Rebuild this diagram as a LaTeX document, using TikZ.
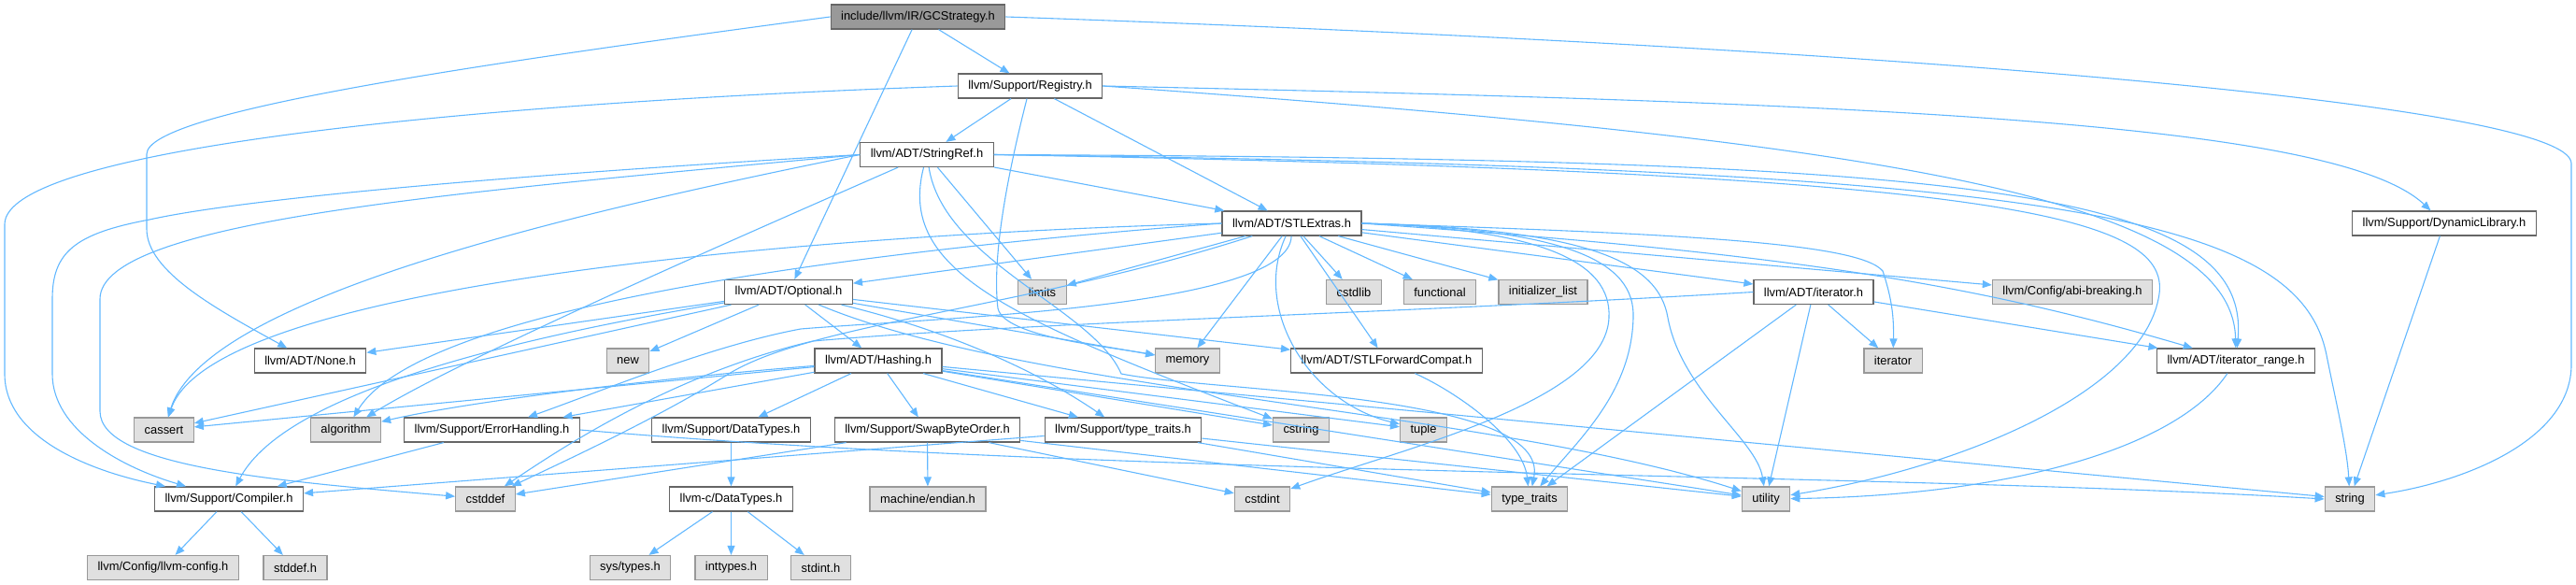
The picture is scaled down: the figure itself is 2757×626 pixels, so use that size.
\documentclass[tikz,border=0pt]{standalone}
\usepackage{fontspec}
\setmainfont{Liberation Sans}
\usetikzlibrary{arrows.meta}
\definecolor{ec}{HTML}{63B8FF}
\definecolor{bw}{HTML}{666666}
\definecolor{bg}{HTML}{999999}
\definecolor{fg}{HTML}{E0E0E0}
\newcommand{\nodefont}{\fontsize{12.9}{15}\selectfont}
\tikzset{
  box/.style={draw=bw, fill=white, line width=1.2pt, minimum height=26pt, inner xsep=11pt, inner ysep=0pt, font=\nodefont, anchor=center},
  gbox/.style={box, draw=bg, fill=fg},
  rootbox/.style={box, draw=bw, fill=bg},
  e/.style={draw=ec, line width=1.1pt, -{Triangle[length=10pt,width=8pt]}}
}
\begin{document}
\begin{tikzpicture}[x=1pt,y=-1pt]
\useasboundingbox (0,0) rectangle (2757,626);
% row 1-4
\node[rootbox] (gc) at (982.5,18) {include/llvm/IR/GCStrategy.h};
\node[box] (reg) at (1102.5,92) {llvm/Support/Registry.h};
\node[box] (sref) at (992,165.5) {llvm/ADT/StringRef.h};
\node[box] (stl) at (1382.5,239) {llvm/ADT/STLExtras.h};
\node[box] (dyn) at (2616,239) {llvm/Support/DynamicLibrary.h};
% row 5
\node[box] (opt) at (844,312.5) {llvm/ADT/Optional.h};
\node[gbox] (limits) at (1115.5,312.5) {limits};
\node[gbox] (cstdlib) at (1449,312.5) {cstdlib};
\node[gbox] (functional) at (1541,312.5) {functional};
\node[gbox] (initlist) at (1651.5,312.5) {initializer\_list};
\node[box] (iterh) at (1941,312.5) {llvm/ADT/iterator.h};
\node[gbox] (abi) at (2218,312.5) {llvm/Config/abi-breaking.h};
% row 6
\node[box] (none) at (332,386) {llvm/ADT/None.h};
\node[gbox] (new) at (672,386) {new};
\node[box] (hash) at (940,386) {llvm/ADT/Hashing.h};
\node[gbox] (memory) at (1271,386) {memory};
\node[box] (sfc) at (1484,386) {llvm/ADT/STLForwardCompat.h};
\node[gbox] (iterator) at (2026,386) {iterator};
\node[box] (irange) at (2393,386) {llvm/ADT/iterator\_range.h};
% row 7
\node[gbox] (cassert) at (175.5,460) {cassert};
\node[gbox] (algorithm) at (370,460) {algorithm};
\node[box] (errh) at (526.5,460) {llvm/Support/ErrorHandling.h};
\node[box] (sdt) at (782.5,460) {llvm/Support/DataTypes.h};
\node[box] (swap) at (992.5,460) {llvm/Support/SwapByteOrder.h};
\node[box] (stt) at (1202,460) {llvm/Support/type\_traits.h};
\node[gbox] (cstring) at (1392.5,460) {cstring};
\node[gbox] (tuple) at (1523.5,460) {tuple};
% row 8
\node[box] (comp) at (245,534) {llvm/Support/Compiler.h};
\node[gbox] (cstddef) at (519.5,534) {cstddef};
\node[box] (cdt) at (782.5,534) {llvm-c/DataTypes.h};
\node[gbox] (endian) at (993,534) {machine/endian.h};
\node[gbox] (cstdint) at (1351,534) {cstdint};
\node[gbox] (typetraits) at (1637,534) {type\_traits};
\node[gbox] (utility) at (1890,534) {utility};
\node[gbox] (string) at (2515,534) {string};
% row 9
\node[gbox] (llvmconfig) at (174.5,607.5) {llvm/Config/llvm-config.h};
\node[gbox] (stddef) at (316,607.5) {stddef.h};
\node[gbox] (systypes) at (674.5,607.5) {sys/types.h};
\node[gbox] (inttypes) at (782.5,607.5) {inttypes.h};
\node[gbox] (stdint) at (878.5,607.5) {stdint.h};

% GCStrategy.h
\draw[e] (gc) -- (reg);
\draw[e] (gc) -- (opt);
\draw[e] (gc.west) .. controls (500,70) and (157,120) .. (157,165) -- (157,245) .. controls (157,290) and (230,330) .. (none);
\draw[e] (gc.east) .. controls (2000,50) and (2752,110) .. (2752,175) -- (2752,390) .. controls (2752,470) and (2640,515) .. (string);
% Registry.h
\draw[e] (reg.west) .. controls (500,110) and (5,160) .. (5,240) -- (5,400) .. controls (5,470) and (100,505) .. (comp);
\draw[e] (reg) -- (sref);
\draw[e] (reg) .. controls (1075,200) and (1062,280) .. (1068,330) .. controls (1075,360) and (1180,370) .. (memory);
\draw[e] (reg) -- (stl);
\draw[e] (reg.east) .. controls (2000,150) and (2390,210) .. (irange);
\draw[e] (reg.east) .. controls (2000,110) and (2500,130) .. (dyn);
% StringRef.h
\draw[e] (sref) -- (stl);
\draw[e] (sref) -- (limits);
\draw[e] (sref.west) .. controls (500,190) and (250,215) .. (160,235) .. controls (80,250) and (56,270) .. (56,320) -- (56,400) .. controls (56,460) and (130,500) .. (comp);
\draw[e] (sref.west) .. controls (500,205) and (107,235) .. (107,320) -- (107,440) .. controls (107,500) and (300,515) .. (cstddef);
\draw[e] (sref.west) .. controls (600,230) and (220,320) .. (cassert);
\draw[e] (sref) .. controls (800,250) and (500,380) .. (algorithm);
\draw[e] (sref) .. controls (960,290) and (1080,340) .. (cstring);
\draw[e] (sref) .. controls (1010,280) and (1170,330) .. (1200,400) .. controls (1300,420) and (1660,420) .. (typetraits);
\draw[e] (sref.east) .. controls (2150,185) and (2330,230) .. (2310,320) .. controls (2290,420) and (2100,500) .. (utility);
\draw[e] (sref.east) .. controls (2100,170) and (2410,200) .. (irange);
\draw[e] (sref.east) .. controls (2200,180) and (2460,230) .. (2490,380) .. controls (2500,430) and (2512,480) .. (string);
% STLExtras.h
\draw[e] (stl) -- (opt);
\draw[e] (stl) -- (limits);
\draw[e] (stl) -- (cstdlib);
\draw[e] (stl) -- (functional);
\draw[e] (stl) -- (initlist);
\draw[e] (stl) -- (iterh);
\draw[e] (stl) -- (abi);
\draw[e] (stl) -- (memory);
\draw[e] (stl) -- (sfc);
\draw[e] (stl.east) .. controls (1900,270) and (2100,300) .. (irange);
\draw[e] (stl.east) .. controls (1800,250) and (1990,260) .. (2015,290) .. controls (2025,320) and (2027,340) .. (iterator);
\draw[e] (stl) .. controls (1340,330) and (1400,430) .. (tuple);
\draw[e] (stl.east) .. controls (1650,245) and (1725,280) .. (1722,340) .. controls (1718,430) and (1500,480) .. (cstdint);
\draw[e] (stl.east) .. controls (1680,245) and (1750,280) .. (1748,340) .. controls (1746,420) and (1690,470) .. (typetraits);
\draw[e] (stl.east) .. controls (1700,245) and (1775,280) .. (1785,340) .. controls (1800,420) and (1880,470) .. (utility);
\draw[e] (stl.west) .. controls (900,250) and (230,300) .. (cassert);
\draw[e] (stl.west) .. controls (900,270) and (450,330) .. (algorithm);
\draw[e] (stl) .. controls (1100,330) and (870,345) .. (780,400) .. controls (700,450) and (590,500) .. (cstddef);
\draw[e] (stl) .. controls (1380,330) and (1000,340) .. (857,352) .. controls (760,370) and (640,420) .. (errh);
% Optional.h
\draw[e] (opt) -- (none);
\draw[e] (opt) -- (cassert);
\draw[e] (opt) .. controls (500,370) and (300,430) .. (comp);
\draw[e] (opt) -- (new);
\draw[e] (opt) -- (hash);
\draw[e] (opt) -- (memory);
\draw[e] (opt) -- (sfc);
\draw[e] (opt) .. controls (1000,350) and (1100,390) .. (stt);
\draw[e] (opt) .. controls (1100,420) and (1600,440) .. (utility);
% Hashing.h
\draw[e] (hash) -- (sdt);
\draw[e] (hash) -- (errh);
\draw[e] (hash) -- (swap);
\draw[e] (hash) -- (stt);
\draw[e] (hash) .. controls (700,405) and (500,430) .. (algorithm);
\draw[e] (hash) -- (cassert);
\draw[e] (hash) -- (cstring);
\draw[e] (hash) -- (tuple);
\draw[e] (hash) -- (string);
\draw[e] (hash) -- (utility);
% ErrorHandling.h
\draw[e] (errh) -- (comp);
\draw[e] (errh.east) .. controls (1200,510) and (2000,505) .. (string.west);
% DataTypes
\draw[e] (sdt) -- (cdt);
\draw[e] (cdt) -- (systypes);
\draw[e] (cdt) -- (inttypes);
\draw[e] (cdt) -- (stdint);
% SwapByteOrder.h
\draw[e] (swap) -- (cstddef);
\draw[e] (swap) -- (endian);
\draw[e] (swap) -- (cstdint);
\draw[e] (swap) -- (typetraits);
% type_traits.h
\draw[e] (stt) -- (comp);
\draw[e] (stt) -- (typetraits);
\draw[e] (stt) -- (utility);
% Compiler.h
\draw[e] (comp) -- (llvmconfig);
\draw[e] (comp) -- (stddef);
% iterator.h
\draw[e] (iterh.west) .. controls (1500,335) and (1100,345) .. (870,365) .. controls (720,400) and (600,480) .. (cstddef);
\draw[e] (iterh) -- (iterator);
\draw[e] (iterh) -- (irange);
\draw[e] (iterh) -- (typetraits);
\draw[e] (iterh) -- (utility);
% others
\draw[e] (irange) .. controls (2330,480) and (2150,530) .. (utility);
\draw[e] (sfc) .. controls (1560,420) and (1630,470) .. (typetraits);
\draw[e] (dyn) -- (string);
\end{tikzpicture}
\end{document}
